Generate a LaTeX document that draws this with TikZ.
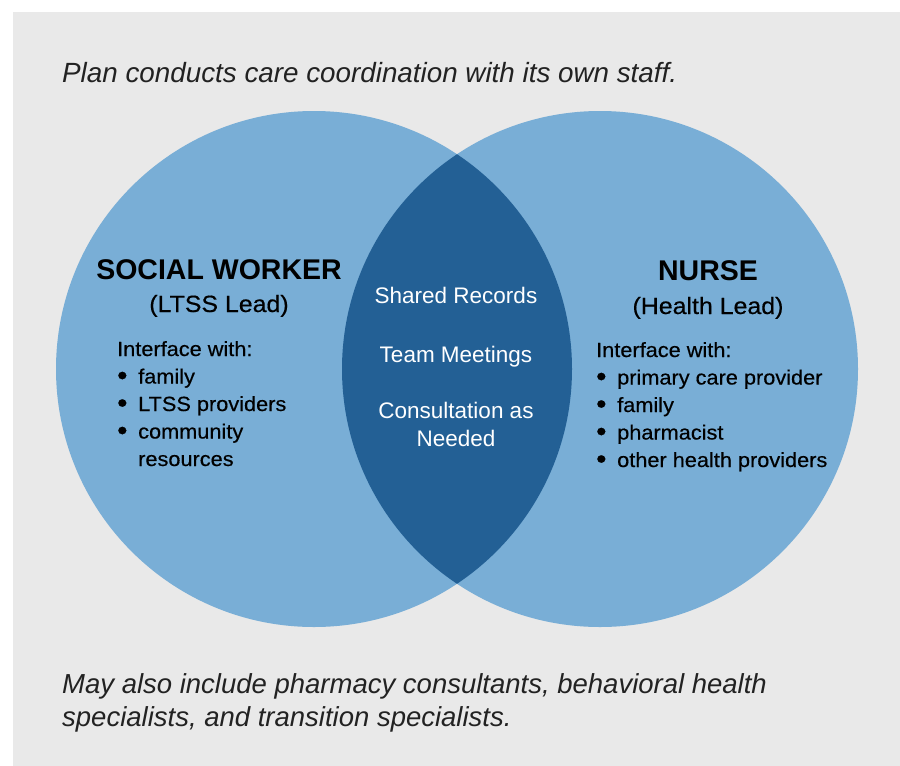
\documentclass[tikz,border=0pt]{standalone}
\usepackage{fontspec}
\setmainfont{Liberation Sans}
\newfontfamily\medfont[FakeBold=0.4,FakeStretch=1.06]{Liberation Sans}
\usetikzlibrary{positioning}
\definecolor{panelgray}{HTML}{E9E9E9}
\definecolor{circblue}{HTML}{79AED6}
\definecolor{lensblue}{HTML}{236095}
\definecolor{inkgray}{HTML}{222222}
\newcommand{\dotmark}{\raisebox{-1.2pt}{\scalebox{1.35}{\textbullet}}}

\begin{document}
\begin{tikzpicture}[x=1pt,y=-1pt,inner sep=0pt,
    role/.style={anchor=base,font=\fontsize{28.5}{30}\selectfont\bfseries,text=black},
    lead/.style={anchor=base,font=\medfont\fontsize{23.5}{28}\selectfont,text=black},
    duties/.style={anchor=base west,font=\medfont\fontsize{20.5}{27.5}\selectfont,text=black},
    shared/.style={anchor=base,font=\fontsize{22.5}{28.7}\selectfont,text=white,align=center},
    remark/.style={anchor=base west,font=\fontsize{27.5}{33}\selectfont\itshape,text=inkgray,align=left}]
  \useasboundingbox (0,0) rectangle (900,766);
  \fill[panelgray] (13,12) rectangle (900,766);
  % the two circles and their overlap
  \fill[circblue] (314,369) circle[radius=258pt];
  \fill[circblue] (600,369) circle[radius=258pt];
  \begin{scope}
    \clip (314,369) circle[radius=258pt];
    \fill[lensblue] (600,369) circle[radius=258pt];
  \end{scope}
  \node[remark,font=\fontsize{27.8}{33}\selectfont\itshape] (plan) at (62,82) {Plan conducts care coordination with its own staff.};
  % left circle
  \node[role] (sw) at (219,279) {SOCIAL WORKER};
  \node[lead] (swlead) at (219,312) {(LTSS Lead)};
  \node[duties] (swlist) at (117,356) {\begin{tabular}[t]{@{}p{21pt}@{}l@{}}
      \multicolumn{2}{@{}l@{}}{Interface with:}\\
      \dotmark & family\\
      \dotmark & LTSS providers\\
      \dotmark & community\\
               & resources
    \end{tabular}};
  % right circle
  \node[role] (nurse) at (708,280) {NURSE};
  \node[lead] (nurselead) at (708,314) {(Health Lead)};
  \node[duties] (nurselist) at (596,357) {\begin{tabular}[t]{@{}p{21pt}@{}l@{}}
      \multicolumn{2}{@{}l@{}}{Interface with:}\\
      \dotmark & primary care provider\\
      \dotmark & family\\
      \dotmark & pharmacist\\
      \dotmark & other health providers
    \end{tabular}};
  % overlap
  \node[shared] (records) at (456,303) {Shared Records};
  \node[shared] (meetings) at (456,362) {Team Meetings};
  \node[shared] (consult) at (456,418) {\begin{tabular}[t]{@{}c@{}}Consultation as\\Needed\end{tabular}};
  \node[remark] (others) at (62,726) {May also include pharmacy consultants, behavioral health\\specialists, and transition specialists.};
\end{tikzpicture}
\end{document}
